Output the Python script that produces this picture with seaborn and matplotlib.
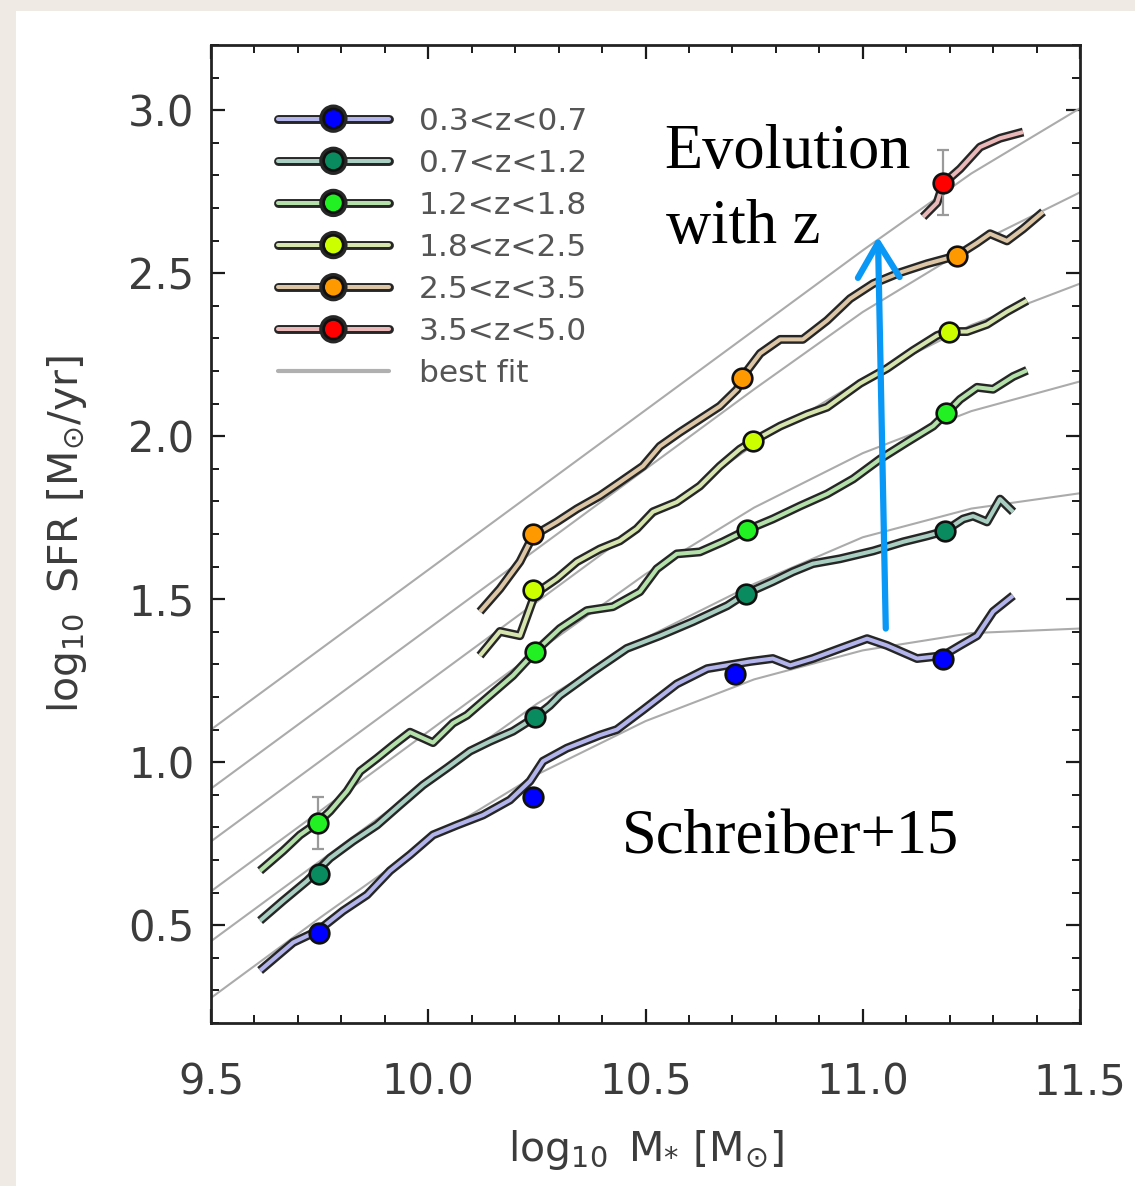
import matplotlib
matplotlib.use("Agg")
import numpy as np
import pandas as pd
import matplotlib.pyplot as plt
import matplotlib.patheffects as pe
from matplotlib.lines import Line2D
from matplotlib.patches import Rectangle
from matplotlib.ticker import MultipleLocator, FormatStrFormatter
import seaborn as sns

# ---------------- data ----------------
bin_labels = ["0.3<z<0.7", "0.7<z<1.2", "1.2<z<1.8", "1.8<z<2.5", "2.5<z<3.5", "3.5<z<5.0"]

# running medians (wiggly curves)
c1_x = [9.613, 9.689, 9.746, 9.804, 9.859, 9.912, 9.958, 10.011, 10.066, 10.126, 10.188, 10.234, 10.264,
        10.319, 10.395, 10.434, 10.494, 10.572, 10.642, 10.741, 10.793, 10.833, 10.885, 10.948, 11.010,
        11.056, 11.125, 11.185, 11.224, 11.263, 11.300, 11.346]
c1_y = [0.361, 0.447, 0.483, 0.544, 0.593, 0.667, 0.716, 0.777, 0.807, 0.838, 0.884, 0.942, 1.003,
        1.043, 1.083, 1.100, 1.160, 1.240, 1.287, 1.309, 1.318, 1.297, 1.318, 1.349, 1.379,
        1.358, 1.318, 1.327, 1.358, 1.388, 1.462, 1.511]

c2_x = [9.613, 9.666, 9.721, 9.774, 9.827, 9.882, 9.935, 9.988, 10.043, 10.096, 10.142, 10.195, 10.246,
        10.280, 10.303, 10.379, 10.457, 10.533, 10.609, 10.688, 10.731, 10.793, 10.839, 10.885, 10.948,
        11.024, 11.093, 11.148, 11.189, 11.231, 11.254, 11.286, 11.316, 11.346]
c2_y = [0.514, 0.575, 0.636, 0.706, 0.758, 0.807, 0.869, 0.930, 0.982, 1.034, 1.064, 1.095, 1.138,
        1.174, 1.205, 1.278, 1.349, 1.388, 1.431, 1.480, 1.517, 1.554, 1.584, 1.609, 1.624,
        1.648, 1.676, 1.694, 1.709, 1.746, 1.755, 1.737, 1.807, 1.768]

c3_x = [9.613, 9.666, 9.705, 9.746, 9.774, 9.813, 9.843, 9.882, 9.919, 9.958, 10.011, 10.057, 10.089,
        10.142, 10.195, 10.246, 10.303, 10.365, 10.425, 10.487, 10.526, 10.572, 10.625, 10.678, 10.734,
        10.793, 10.856, 10.918, 10.978, 11.040, 11.102, 11.162, 11.192, 11.224, 11.263, 11.300, 11.346, 11.378]
c3_y = [0.667, 0.728, 0.777, 0.815, 0.850, 0.911, 0.972, 1.012, 1.052, 1.092, 1.060, 1.120, 1.144,
        1.205, 1.266, 1.339, 1.410, 1.465, 1.477, 1.523, 1.593, 1.639, 1.645, 1.676, 1.713,
        1.746, 1.786, 1.823, 1.869, 1.930, 1.982, 2.031, 2.070, 2.113, 2.150, 2.144, 2.183, 2.202]

c4_x = [10.119, 10.165, 10.211, 10.246, 10.296, 10.342, 10.395, 10.441, 10.480, 10.517, 10.572, 10.625,
        10.671, 10.717, 10.747, 10.810, 10.872, 10.918, 10.994, 11.056, 11.116, 11.171, 11.199, 11.240,
        11.286, 11.332, 11.378]
c4_y = [1.327, 1.401, 1.388, 1.517, 1.563, 1.615, 1.654, 1.679, 1.716, 1.768, 1.798, 1.847,
        1.908, 1.960, 1.985, 2.031, 2.067, 2.089, 2.162, 2.208, 2.263, 2.309, 2.321, 2.321,
        2.343, 2.382, 2.416]

c5_x = [10.119, 10.165, 10.211, 10.241, 10.296, 10.342, 10.395, 10.441, 10.494, 10.533, 10.579, 10.625,
        10.671, 10.711, 10.722, 10.764, 10.810, 10.862, 10.918, 10.971, 11.024, 11.086, 11.148, 11.217,
        11.263, 11.293, 11.332, 11.369, 11.415]
c5_y = [1.462, 1.532, 1.615, 1.694, 1.737, 1.777, 1.817, 1.859, 1.908, 1.969, 2.012, 2.052,
        2.092, 2.144, 2.180, 2.254, 2.297, 2.297, 2.355, 2.422, 2.468, 2.502, 2.529, 2.554,
        2.593, 2.621, 2.599, 2.636, 2.688]

c6_x = [11.139, 11.171, 11.185, 11.224, 11.270, 11.316, 11.369]
c6_y = [2.673, 2.716, 2.774, 2.820, 2.887, 2.914, 2.933]

# binned points
p1_x = [9.749, 10.241, 10.706, 11.185]; p1_y = [0.477, 0.893, 1.272, 1.318]; p1_e = [0, 0, 0, 0]
p2_x = [9.749, 10.246, 10.731, 11.189]; p2_y = [0.657, 1.138, 1.517, 1.709]; p2_e = [0, 0, 0, 0]
p3_x = [9.746, 10.246, 10.734, 11.192]; p3_y = [0.813, 1.339, 1.713, 2.070]; p3_e = [0.08, 0, 0, 0]
p4_x = [10.241, 10.747, 11.199]; p4_y = [1.529, 1.985, 2.321]; p4_e = [0, 0, 0]
p5_x = [10.241, 10.722, 11.217]; p5_y = [1.700, 2.180, 2.553]; p5_e = [0, 0, 0]
p6_x = [11.185]; p6_y = [2.778]; p6_e = [0.10]

# best-fit curves
fit_x = [9.5, 9.75, 10.0, 10.25, 10.5, 10.75, 11.0, 11.25, 11.5]
fit1 = [0.277, 0.522, 0.759, 0.962, 1.126, 1.254, 1.343, 1.396, 1.410]
fit2 = [0.451, 0.696, 0.941, 1.179, 1.381, 1.547, 1.690, 1.778, 1.825]
fit3 = [0.604, 0.849, 1.094, 1.339, 1.577, 1.781, 1.948, 2.077, 2.168]
fit4 = [0.757, 1.002, 1.247, 1.492, 1.737, 1.974, 2.176, 2.341, 2.468]
fit5 = [0.919, 1.164, 1.409, 1.654, 1.899, 2.144, 2.381, 2.583, 2.748]
fit6 = [1.100, 1.345, 1.590, 1.835, 2.080, 2.325, 2.570, 2.806, 3.006]

line_colors = ['#b4b4ec', '#a9cfc2', '#b4e0aa', '#d6e4ae', '#dcc6a6', '#eab8b8']
marker_colors = ['#0000ff', '#0a8a5f', '#22f022', '#ccff00', '#ff9900', '#ff0000']

curves = [(c1_x, c1_y), (c2_x, c2_y), (c3_x, c3_y), (c4_x, c4_y), (c5_x, c5_y), (c6_x, c6_y)]
points = [(p1_x, p1_y, p1_e), (p2_x, p2_y, p2_e), (p3_x, p3_y, p3_e),
          (p4_x, p4_y, p4_e), (p5_x, p5_y, p5_e), (p6_x, p6_y, p6_e)]
fits = [fit1, fit2, fit3, fit4, fit5, fit6]

# ---------------- style ----------------
sns.set_style("ticks")
plt.rcParams['font.family'] = ['DejaVu Sans']
plt.rcParams['mathtext.fontset'] = 'dejavusans'

W, H = 1135, 1186
fig = plt.figure(figsize=(W / 100, H / 100), dpi=100, facecolor='#efebe4')
fig.patches.append(Rectangle((16 / W, -0.1), 2, 1.1 - 11 / H, transform=fig.transFigure,
                             facecolor='white', edgecolor='none', zorder=-10))

ax = fig.add_axes([211 / W, 1 - 1023 / H, (1080 - 211) / W, (1023 - 45) / H])
ax.set_facecolor('white')

outline = [pe.Stroke(linewidth=6.4, foreground='#262626'), pe.Normal()]

for f in fits:
    sns.lineplot(x=fit_x, y=f, color='#ababab', lw=1.5, ax=ax, zorder=1)

for (cx, cy), lc in zip(curves, line_colors):
    df = pd.DataFrame({'mass': cx, 'sfr': cy})
    n0 = len(ax.lines)
    sns.lineplot(data=df, x='mass', y='sfr', sort=False, estimator=None,
                 color=lc, lw=2.9, ax=ax, zorder=3)
    for ln in ax.lines[n0:]:
        ln.set_path_effects(outline)
        ln.set_solid_capstyle('butt')

for (px, py, pe_), mc in zip(points, marker_colors):
    px_e = [x for x, e in zip(px, pe_) if e > 0]
    py_e = [y for y, e in zip(py, pe_) if e > 0]
    ee = [e for e in pe_ if e > 0]
    if ee:
        ax.errorbar(px_e, py_e, yerr=ee, fmt='none', ecolor='#9a9a9a', elinewidth=1.6,
                    capsize=4, capthick=1.6, zorder=4)
    sns.scatterplot(x=px, y=py, color=mc, s=200, edgecolor='#101010', linewidth=1.9,
                    ax=ax, zorder=5)

# axes
ax.set_xlim(9.5, 11.5)
ax.set_ylim(0.2, 3.2)
ax.xaxis.set_major_locator(MultipleLocator(0.5))
ax.xaxis.set_minor_locator(MultipleLocator(0.1))
ax.yaxis.set_major_locator(MultipleLocator(0.5))
ax.yaxis.set_minor_locator(MultipleLocator(0.1))
ax.xaxis.set_major_formatter(FormatStrFormatter('%.1f'))
ax.yaxis.set_major_formatter(FormatStrFormatter('%.1f'))
ax.tick_params(which='both', direction='in', top=True, right=True, colors='#1a1a1a')
ax.tick_params(which='major', length=10, width=1.6, labelsize=30, labelcolor='#3c3c3c')
ax.tick_params(which='minor', length=5.5, width=1.4)
ax.tick_params(axis='x', which='major', pad=28)
ax.tick_params(axis='y', which='major', pad=12)
for sp in ax.spines.values():
    sp.set_linewidth(2.0)
    sp.set_color('#222222')

ax.set_xlabel(r'$\log_{10}$ M$_{*}$ [M$_{\odot}$]', fontsize=29.5, color='#3c3c3c', labelpad=17)
ax.set_ylabel(r'$\log_{10}$ SFR [M$_{\odot}$/yr]', fontsize=29.5, color='#3c3c3c', labelpad=28)

# legend
handles = []
for lc, mc in zip(line_colors, marker_colors):
    handles.append(Line2D([], [], color=lc, lw=2.9, marker='o', ms=14, mfc=mc, mec='#101010',
                          mew=1.9, path_effects=outline))
handles.append(Line2D([], [], color='#b0b0b0', lw=3.0))
leg = ax.legend(handles, bin_labels + ['best fit'], loc='upper left', bbox_to_anchor=(0.077, 0.937),
                frameon=False, fontsize=22.5, handlelength=3.55, handletextpad=0.95, labelspacing=0.42,
                borderpad=0, borderaxespad=0, numpoints=1)
for t in leg.get_texts():
    t.set_color('#555555')

# annotations
serif = ['Liberation Serif', 'DejaVu Serif']
ax.text(0.522, 0.874, 'Evolution', transform=ax.transAxes, fontsize=45, family=serif,
        color='black', va='baseline', ha='left', zorder=7)
ax.text(0.524, 0.7975, 'with z', transform=ax.transAxes, fontsize=45, family=serif,
        color='black', va='baseline', ha='left', zorder=7)
ax.text(0.473, 0.1738, 'Schreiber+15', transform=ax.transAxes, fontsize=45, family=serif,
        color='black', va='baseline', ha='left', zorder=7)
ax.annotate('', xy=(11.035, 2.612), xytext=(11.053, 1.410),
            arrowprops=dict(arrowstyle='->,head_length=2.5,head_width=1.5', color='#0a98f6',
                            lw=4.5, shrinkA=0, shrinkB=0, mutation_scale=10),
            zorder=6)

fig.savefig('out.png', dpi=100, facecolor=fig.get_facecolor())
